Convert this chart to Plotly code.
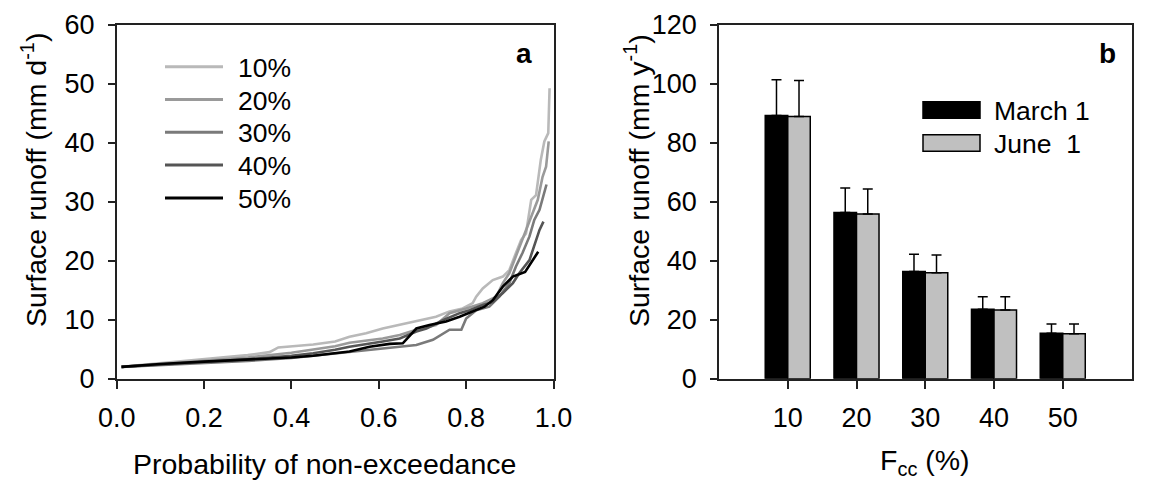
import plotly.graph_objects as go

# ---------------- data ----------------
series_names = ["10%", "20%", "30%", "40%", "50%"]

p10 = [0.011, 0.1, 0.213, 0.3, 0.35, 0.37, 0.45, 0.5, 0.533, 0.571, 0.609, 0.648, 0.686, 0.731, 0.762,
       0.792, 0.815, 0.823, 0.838, 0.861, 0.884, 0.899, 0.914, 0.926, 0.937, 0.949, 0.96, 0.971, 0.979, 0.988, 0.991]
v10 = [2.0, 2.6, 3.3, 4.0, 4.5, 5.3, 5.8, 6.3, 7.1, 7.7, 8.5, 9.1, 9.7, 10.5, 11.4,
       11.9, 12.8, 13.9, 15.3, 16.7, 17.3, 18.4, 21.3, 23.5, 24.6, 30.3, 31.1, 37.1, 40.2, 41.6, 49.2]

p20 = [0.011, 0.1, 0.2, 0.3, 0.4, 0.45, 0.5, 0.533, 0.609, 0.648, 0.686, 0.731, 0.762, 0.8, 0.838,
       0.869, 0.884, 0.899, 0.914, 0.926, 0.941, 0.952, 0.964, 0.975, 0.983, 0.989]
v20 = [2.0, 2.5, 3.1, 3.6, 4.4, 5.0, 5.5, 6.1, 6.8, 7.4, 8.3, 9.1, 11.1, 11.9, 12.8,
       13.9, 16.2, 17.9, 20.7, 22.9, 25.8, 28.0, 30.3, 34.2, 35.9, 40.2]

p30 = [0.011, 0.1, 0.2, 0.3, 0.4, 0.45, 0.5, 0.533, 0.609, 0.686, 0.724, 0.762, 0.789, 0.8, 0.823,
       0.853, 0.876, 0.899, 0.914, 0.929, 0.945, 0.956, 0.968, 0.979, 0.984]
v30 = [2.0, 2.3, 2.7, 3.0, 3.5, 3.9, 4.3, 4.6, 5.2, 5.7, 6.6, 8.3, 8.3, 10.2, 11.6,
       12.2, 13.9, 16.2, 19.0, 21.3, 24.1, 26.9, 28.6, 31.4, 32.9]

p40 = [0.011, 0.1, 0.2, 0.3, 0.4, 0.45, 0.5, 0.533, 0.609, 0.648, 0.686, 0.709, 0.747, 0.785, 0.808,
       0.838, 0.861, 0.884, 0.907, 0.922, 0.945, 0.96, 0.968, 0.977]
v40 = [2.0, 2.4, 2.9, 3.3, 3.9, 4.3, 4.9, 5.4, 6.3, 6.8, 8.0, 8.5, 9.9, 11.1, 11.6,
       12.5, 13.0, 14.5, 16.2, 17.9, 20.1, 23.5, 25.2, 26.6]

p50 = [0.011, 0.1, 0.2, 0.3, 0.4, 0.45, 0.5, 0.533, 0.579, 0.625, 0.655, 0.686, 0.716, 0.754, 0.785,
       0.815, 0.842, 0.861, 0.884, 0.907, 0.935, 0.965]
v50 = [2.0, 2.5, 2.9, 3.2, 3.6, 3.9, 4.3, 4.6, 5.4, 5.9, 6.0, 8.5, 9.1, 9.7, 10.5,
       11.4, 12.2, 13.3, 15.6, 17.3, 18.1, 21.5]

fcc = [10, 20, 30, 40, 50]
bar_names = ["March 1", "June  1"]
march_vals = [89.2, 56.3, 36.3, 23.5, 15.4]
march_err = [12.1, 8.3, 5.9, 4.3, 3.1]
june_vals = [88.8, 55.8, 35.9, 23.3, 15.2]
june_err = [12.2, 8.5, 6.0, 4.5, 3.3]

left_yticks = [0, 10, 20, 30, 40, 50, 60]
left_xticks = [0.0, 0.2, 0.4, 0.6, 0.8, 1.0]
right_yticks = [0, 20, 40, 60, 80, 100, 120]

# ---------------- style ----------------
W, H = 1151, 485
FONT = "Arial, Liberation Sans, sans-serif"
line_colors = ["#b9b9b9", "#9a9a9a", "#7a7a7a", "#555555", "#000000"]
bar_colors = ["#000000", "#c0c0c0"]
TICK_SIZE = 27
TITLE_SIZE = 28.5
LEG_SIZE = 26.5


def px(x):
    return x / W


def py(y):
    return 1 - y / H


L_X0, L_X1 = 116.7, 553.5
R_X0, R_X1 = 719.0, 1131.5
Y_TOP, Y_BOT = 24.5, 378.7

fig = go.Figure()

for name, xs, ys, c in zip(series_names, [p10, p20, p30, p40, p50], [v10, v20, v30, v40, v50], line_colors):
    fig.add_trace(go.Scatter(x=xs, y=ys, mode="lines", name=name,
                             line=dict(color=c, width=2.6), xaxis="x", yaxis="y", showlegend=False))

for name, vals, err, c in zip(bar_names, [march_vals, june_vals], [march_err, june_err], bar_colors):
    fig.add_trace(go.Bar(x=fcc, y=vals, name=name, marker=dict(color=c, line=dict(color="#000000", width=1.5)),
                         error_y=dict(type="data", array=err, arrayminus=[0] * len(err), symmetric=False,
                                      color="#000000", thickness=1.5, width=5),
                         xaxis="x2", yaxis="y2", showlegend=False))

axis_common = dict(showline=True, linecolor="#222222", linewidth=1.6, mirror=True, showgrid=False,
                   zeroline=False, ticks="outside", tickcolor="#222222", tickwidth=1.5,
                   tickfont=dict(family=FONT, size=TICK_SIZE, color="#000000"))

fig.update_layout(
    width=W, height=H, margin=dict(l=0, r=0, t=0, b=0, autoexpand=False),
    paper_bgcolor="white", plot_bgcolor="white",
    font=dict(family=FONT, color="#000000"),
    barmode="group", bargap=0.345, bargroupgap=0,
    xaxis=dict(domain=[px(L_X0), px(L_X1)], range=[0, 1], tickvals=left_xticks, tickformat=".1f",
               ticklen=8, ticklabelstandoff=6, anchor="y", **axis_common),
    yaxis=dict(domain=[py(Y_BOT), py(Y_TOP)], range=[0, 60], tickvals=left_yticks,
               ticklen=7, ticklabelstandoff=8, anchor="x", **axis_common),
    xaxis2=dict(domain=[px(R_X0), px(R_X1)], range=[0, 60], tickvals=fcc,
                ticklen=8, ticklabelstandoff=6, anchor="y2", **axis_common),
    yaxis2=dict(domain=[py(Y_BOT), py(Y_TOP)], range=[0, 120], tickvals=right_yticks,
                ticklen=7, ticklabelstandoff=8, anchor="x2", **axis_common),
)

annotations = []
shapes = []


def note(text, x, y, size, xanchor="center", angle=0):
    annotations.append(dict(text=text, x=px(x), y=py(y), xref="paper", yref="paper", xanchor=xanchor,
                            yanchor="middle", textangle=angle, showarrow=False,
                            font=dict(size=size, family=FONT, color="#000000")))


# axis titles
note("Surface runoff (mm d<sup>-1</sup>)", 34, 180, TITLE_SIZE, angle=-90)
note("Surface runoff (mm y<sup>-1</sup>)", 637, 180, TITLE_SIZE, angle=-90)
note("Probability of non-exceedance", 324, 464, TITLE_SIZE)
note("F<sub>cc</sub> (%)", 925, 462, TITLE_SIZE)

# panel letters
note("<b>a</b>", 534, 53, 28, xanchor="right")
note("<b>b</b>", 1118, 53, 28, xanchor="right")

# legend for panel a
leg_y0, leg_dy = 66.7, 32.8
for i, (name, c) in enumerate(zip(series_names, line_colors)):
    yy = leg_y0 + i * leg_dy
    shapes.append(dict(type="line", xref="paper", yref="paper", x0=px(165), x1=px(223), y0=py(yy), y1=py(yy),
                       line=dict(color=c, width=3)))
    note(name, 236, yy + 1, LEG_SIZE, xanchor="left")

# legend for panel b
for i, (name, c) in enumerate(zip(bar_names, bar_colors)):
    yc = 110 + i * 33
    shapes.append(dict(type="rect", xref="paper", yref="paper", x0=px(923), x1=px(980), y0=py(yc - 8.3),
                       y1=py(yc + 8.3), fillcolor=c, line=dict(color="#000000", width=1.5)))
    note(name, 992, yc + 1, LEG_SIZE, xanchor="left")

fig.update_layout(annotations=annotations, shapes=shapes)

fig.write_html("out.html")
